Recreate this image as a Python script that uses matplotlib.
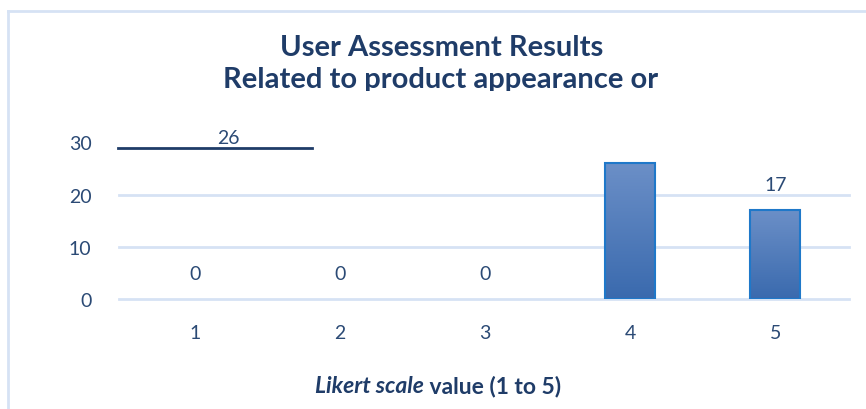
import numpy as np
import matplotlib
matplotlib.use("Agg")
import matplotlib.pyplot as plt
from matplotlib.transforms import Bbox, TransformedBbox

categories = ["1", "2", "3", "4", "5"]
counts = [0, 0, 0, 26, 17]
yticks = [0, 10, 20, 30]

title_col = "#1F3C68"
text_col = "#2B4A75"
grid_col = "#D6E2F4"

plt.rcParams["font.family"] = ["Lato", "DejaVu Sans"]

fig = plt.figure(figsize=(8.66, 4.10), dpi=100)
W, H = 866, 410

# light chart-area border (left and top)
fig.add_artist(plt.Line2D([8 / W, 8 / W], [0, 1 - 12 / H], color=grid_col, lw=2))
fig.add_artist(plt.Line2D([8 / W, 1], [1 - 12 / H, 1 - 12 / H], color=grid_col, lw=2))

ax = fig.add_axes([122 / W, (H - 300.3) / H, 726 / W, 156.9 / H])
x = np.arange(1, len(categories) + 1)
edges = ["#1F78C9" if v > 0 else "none" for v in counts]
bars = ax.bar(x, counts, width=0.345, color="none", edgecolor=edges, lw=1.5, zorder=3)

# vertical gradient fill, clipped to each bar
grad = np.linspace(0, 1, 100).reshape(-1, 1)
cmap = matplotlib.colors.LinearSegmentedColormap.from_list("g", ["#3A6AAE", "#6B8FC7"])
for b in bars:
    if b.get_height() <= 0:
        continue
    im = ax.imshow(grad, extent=[b.get_x(), b.get_x() + b.get_width(), 0, b.get_height()],
                   origin="lower", aspect="auto", cmap=cmap, zorder=2)
    im.set_clip_path(b)

ax.set_xlim(0.5, 5.5)
ax.set_ylim(0, 30)
ax.set_yticks(yticks)
ax.set_xticks(x)
ax.set_xticklabels(categories)
for yv in yticks[:-1]:
    ax.axhline(yv, xmin=-0.004, xmax=1.002, color=grid_col, lw=2, zorder=1, clip_on=False)
for s in ax.spines.values():
    s.set_visible(False)
ax.tick_params(length=0, labelsize=14, colors=text_col)
ax.tick_params(axis="y", pad=22)
ax.tick_params(axis="x", pad=18)

# data labels
for xi, v in zip(x, counts):
    if v == 26:
        continue
    ax.annotate(str(v), (xi, v), xytext=(0, 17), textcoords="offset pixels",
                ha="center", va="bottom", fontsize=14, color=text_col)
# the displaced label of bar 4, with its line
ax.text((228 - 122) / 726, 1 + (143.4 - 138) / 156.9, str(counts[3]), transform=ax.transAxes,
        ha="center", va="center", fontsize=14, color=text_col)
ax.plot([-4 / 726, 190 / 726], [1 + (143.4 - 149) / 156.9] * 2, transform=ax.transAxes,
        color="#1F3C68", lw=2, clip_on=False)

# title, second line cut off at the bottom
fig.text(442 / W, 1 - 56 / H, "User Assessment Results", ha="center", va="baseline",
         fontsize=21, fontweight="bold", color=title_col)
t2 = fig.text(441 / W, 1 - 88 / H, "Related to product appearance or", ha="center", va="baseline",
              fontsize=21, fontweight="bold", color=title_col)
t2.set_clip_box(TransformedBbox(Bbox([[0, (H - 92) / H], [1, 1]]), fig.transFigure))
t2.set_clip_on(True)

t1 = fig.text(315 / W, 1 - 393 / H, "Likert scale", ha="left", va="baseline",
              fontsize=16.5, fontweight="bold", fontstyle="italic", color=title_col)
ax.annotate(" value (1 to 5)", xy=(1, 0), xycoords=t1, ha="left", va="bottom",
            fontsize=16.5, fontweight="bold", color=title_col)

fig.savefig("out.png", dpi=100)
